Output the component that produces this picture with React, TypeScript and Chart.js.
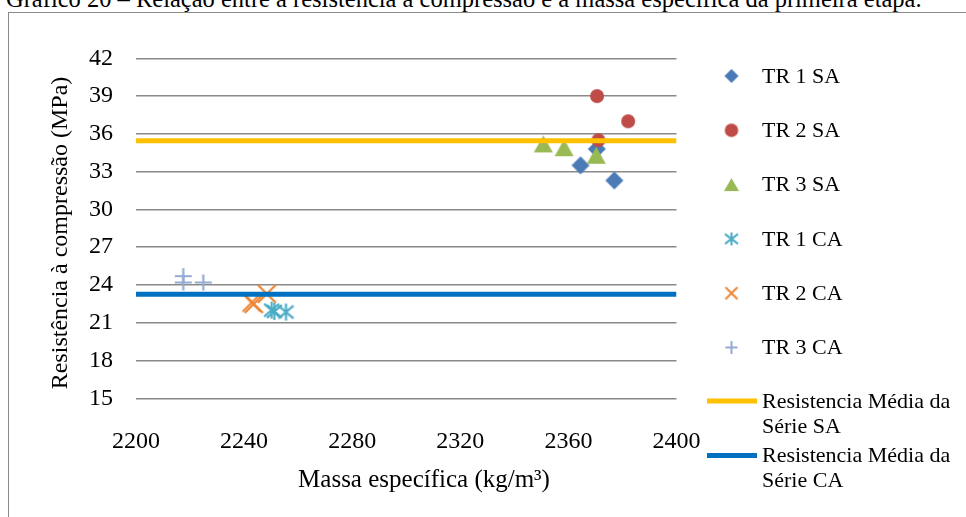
import React, { useEffect, useRef } from 'react';
import { Chart, registerables } from 'chart.js';

Chart.register(...registerables);

// ---- data -------------------------------------------------------------
const tituloGrafico =
  'Gráfico 20 – Relação entre a resistência à compressão e a massa específica da primeira etapa.';
const tituloX = 'Massa específica (kg/m³)';
const tituloY = 'Resistência à compressão (MPa)';

const seriesLabels = ['TR 1 SA', 'TR 2 SA', 'TR 3 SA', 'TR 1 CA', 'TR 2 CA', 'TR 3 CA'];
const mediaLabels = [
  ['Resistencia Média da', 'Série SA'],
  ['Resistencia Média da', 'Série CA'],
];

// massa específica (kg/m³) / resistência à compressão (MPa)
const massaTR1SA = [2370.5, 2364.5, 2377.0];
const resistTR1SA = [34.8, 33.5, 32.3];
const massaTR2SA = [2370.6, 2382.1, 2371.1];
const resistTR2SA = [39.0, 37.0, 35.5];
const massaTR3SA = [2350.7, 2358.4, 2370.3];
const resistTR3SA = [35.2, 34.9, 34.3];
const massaTR1CA = [2250.2, 2255.5, 2251.2];
const resistTR1CA = [22.0, 21.85, 21.9];
const massaTR2CA = [2242.8, 2248.4, 2243.6];
const resistTR2CA = [22.6, 23.3, 22.5];
const massaTR3CA = [2217.5, 2217.5, 2224.9];
const resistTR3CA = [24.7, 24.2, 24.2];

const mediaSA = 35.45;
const mediaCA = 23.26;

const xTickValues = [2200, 2240, 2280, 2320, 2360, 2400];
const yTickValues = [15, 18, 21, 24, 27, 30, 33, 36, 39, 42];

// ---- styling ----------------------------------------------------------
const FONT = "'Liberation Serif', 'Times New Roman', serif";
const colors = {
  tr1sa: '#4a7bb7',
  tr2sa: '#be4b48',
  tr3sa: '#98b954',
  tr1ca: '#4bacc6',
  tr2ca: '#ec8535',
  tr3ca: '#95abd4',
  mediaSA: '#ffc000',
  mediaCA: '#0070c0',
  grid: '#8a8a8a',
};

type Shape = 'diamond' | 'circle' | 'triangle' | 'asterisk' | 'cross' | 'plus';

function makeMarker(shape: Shape, w: number, h: number, color: string, lw = 2): HTMLCanvasElement {
  const pad = 2;
  const c = document.createElement('canvas');
  c.width = Math.ceil(w + pad * 2);
  c.height = Math.ceil(h + pad * 2);
  const ctx = c.getContext('2d')!;
  const cx = c.width / 2;
  const cy = c.height / 2;
  const hw = w / 2;
  const hh = h / 2;
  ctx.fillStyle = color;
  ctx.strokeStyle = color;
  ctx.lineWidth = lw;
  ctx.beginPath();
  switch (shape) {
    case 'diamond':
      ctx.moveTo(cx, cy - hh);
      ctx.lineTo(cx + hw, cy);
      ctx.lineTo(cx, cy + hh);
      ctx.lineTo(cx - hw, cy);
      ctx.closePath();
      ctx.fill();
      break;
    case 'circle':
      ctx.ellipse(cx, cy, hw, hh, 0, 0, Math.PI * 2);
      ctx.fill();
      break;
    case 'triangle':
      ctx.moveTo(cx, cy - hh);
      ctx.lineTo(cx + hw, cy + hh);
      ctx.lineTo(cx - hw, cy + hh);
      ctx.closePath();
      ctx.fill();
      break;
    case 'asterisk':
      ctx.moveTo(cx - hw, cy - hh * 0.75);
      ctx.lineTo(cx + hw, cy + hh * 0.75);
      ctx.moveTo(cx + hw, cy - hh * 0.75);
      ctx.lineTo(cx - hw, cy + hh * 0.75);
      ctx.moveTo(cx, cy - hh);
      ctx.lineTo(cx, cy + hh);
      ctx.stroke();
      break;
    case 'cross':
      ctx.moveTo(cx - hw, cy - hh);
      ctx.lineTo(cx + hw, cy + hh);
      ctx.moveTo(cx + hw, cy - hh);
      ctx.lineTo(cx - hw, cy + hh);
      ctx.stroke();
      break;
    case 'plus':
      ctx.moveTo(cx - hw, cy);
      ctx.lineTo(cx + hw, cy);
      ctx.moveTo(cx, cy - hh);
      ctx.lineTo(cx, cy + hh);
      ctx.stroke();
      break;
  }
  return c;
}

const pts = (xs: number[], ys: number[]) => xs.map((x, i) => ({ x, y: ys[i] }));

export default function App() {
  const canvasRef = useRef<HTMLCanvasElement>(null);

  useEffect(() => {
    const canvas = canvasRef.current;
    if (!canvas) return;

    const plotMarkers = [
      makeMarker('diamond', 18, 18, colors.tr1sa),
      makeMarker('circle', 14, 14, colors.tr2sa),
      makeMarker('triangle', 19, 17, colors.tr3sa),
      makeMarker('asterisk', 15, 17, colors.tr1ca, 2.2),
      makeMarker('cross', 18, 18, colors.tr2ca, 2.2),
      makeMarker('plus', 17, 16, colors.tr3ca, 2.2),
    ];
    const legendMarkers = [
      makeMarker('diamond', 14, 14, colors.tr1sa),
      makeMarker('circle', 13.5, 13.5, colors.tr2sa),
      makeMarker('triangle', 15, 13, colors.tr3sa),
      makeMarker('asterisk', 13, 13, colors.tr1ca),
      makeMarker('cross', 12, 12, colors.tr2ca),
      makeMarker('plus', 12, 13, colors.tr3ca),
    ];

    const seriesData = [
      pts(massaTR1SA, resistTR1SA),
      pts(massaTR2SA, resistTR2SA),
      pts(massaTR3SA, resistTR3SA),
      pts(massaTR1CA, resistTR1CA),
      pts(massaTR2CA, resistTR2CA),
      pts(massaTR3CA, resistTR3CA),
    ];

    const xMin = xTickValues[0];
    const xMax = xTickValues[xTickValues.length - 1];

    const markerDatasets = seriesData.map((data, i) => ({
      label: seriesLabels[i],
      data,
      pointStyle: plotMarkers[i],
      pointRadius: 6,
      showLine: false,
      order: 8 - i,
    }));

    const lineDatasets = [
      {
        label: mediaLabels[0].join(' '),
        data: [
          { x: xMin, y: mediaSA },
          { x: xMax, y: mediaSA },
        ],
        showLine: true,
        borderColor: colors.mediaSA,
        borderWidth: 5,
        pointRadius: 0,
        order: 2,
      },
      {
        label: mediaLabels[1].join(' '),
        data: [
          { x: xMin, y: mediaCA },
          { x: xMax, y: mediaCA },
        ],
        showLine: true,
        borderColor: colors.mediaCA,
        borderWidth: 5,
        pointRadius: 0,
        order: 1,
      },
    ];

    // side legend and axis titles
    const decorPlugin = {
      id: 'decor',
      afterDraw(chart: any) {
        const ctx: CanvasRenderingContext2D = chart.ctx;
        ctx.save();
        ctx.fillStyle = '#000';
        ctx.textBaseline = 'middle';

        // axis titles
        ctx.font = `25px ${FONT}`;
        ctx.textAlign = 'center';
        ctx.fillText(tituloX, 424, 480);
        ctx.font = `24px ${FONT}`;
        ctx.save();
        ctx.translate(60.5, 233);
        ctx.rotate(-Math.PI / 2);
        ctx.fillText(tituloY, 0, 0);
        ctx.restore();

        // legend
        ctx.font = `22px ${FONT}`;
        ctx.textAlign = 'left';
        const markerX = 731.5;
        const textX = 762;
        const rowY0 = 76;
        const rowStep = 54.3;
        legendMarkers.forEach((m, i) => {
          const y = rowY0 + i * rowStep;
          ctx.drawImage(m, markerX - m.width / 2, y - m.height / 2);
          ctx.fillText(seriesLabels[i], textX, y + 1);
        });
        const lineY = [401, 455.5];
        const lineColors = [colors.mediaSA, colors.mediaCA];
        lineY.forEach((y, i) => {
          ctx.strokeStyle = lineColors[i];
          ctx.lineWidth = 5;
          ctx.beginPath();
          ctx.moveTo(707, y);
          ctx.lineTo(757, y);
          ctx.stroke();
          ctx.fillText(mediaLabels[i][0], textX, y + 1);
          ctx.fillText(mediaLabels[i][1], textX, y + 26);
        });
        ctx.restore();
      },
    };

    const chart = new Chart(canvas, {
      type: 'scatter',
      data: { datasets: [...markerDatasets, ...lineDatasets] as any },
      options: {
        responsive: false,
        maintainAspectRatio: false,
        devicePixelRatio: 1,
        animation: false,
        events: [],
        layout: { padding: { left: 46, right: 289.5, top: 58.3, bottom: 0 } },
        plugins: {
          legend: { display: false },
          tooltip: { enabled: false },
        },
        scales: {
          x: {
            type: 'linear',
            min: xMin,
            max: xMax,
            afterBuildTicks: (scale: any) => {
              scale.ticks = xTickValues.map((v) => ({ value: v }));
            },
            afterFit: (scale: any) => {
              scale.height = 118.7;
            },
            grid: { display: false },
            border: { display: false },
            ticks: {
              padding: 21,
              maxRotation: 0,
              autoSkip: false,
              color: '#000',
              font: { family: FONT, size: 24 },
              callback: (v: any) => String(v),
            },
          },
          y: {
            type: 'linear',
            min: yTickValues[0],
            max: yTickValues[yTickValues.length - 1],
            afterBuildTicks: (scale: any) => {
              scale.ticks = yTickValues.map((v) => ({ value: v }));
            },
            afterFit: (scale: any) => {
              scale.width = 90;
            },
            grid: { color: colors.grid, lineWidth: 1.6, drawTicks: false },
            border: { display: false },
            ticks: {
              padding: 23,
              autoSkip: false,
              color: '#000',
              font: { family: FONT, size: 24 },
              callback: (v: any) => String(v),
            },
          },
        },
      },
      plugins: [decorPlugin],
    });

    return () => chart.destroy();
  }, []);

  return (
    <div
      style={{
        position: 'fixed',
        left: 0,
        top: 0,
        width: 966,
        height: 517,
        overflow: 'hidden',
        background: '#fff',
      }}
    >
      <div
        style={{
          position: 'absolute',
          left: 6,
          top: -13,
          whiteSpace: 'nowrap',
          font: `24.5px/24px ${FONT}`,
          color: '#000',
        }}
      >
        {tituloGrafico}
      </div>
      <div
        style={{
          position: 'absolute',
          left: 8,
          top: 12,
          width: 1200,
          height: 800,
          borderLeft: '1px solid #8a8a8a',
          borderTop: '1px solid #8a8a8a',
        }}
      />
      <canvas
        ref={canvasRef}
        width={966}
        height={517}
        style={{ position: 'absolute', left: 0, top: 0, width: 966, height: 517 }}
      />
    </div>
  );
}
